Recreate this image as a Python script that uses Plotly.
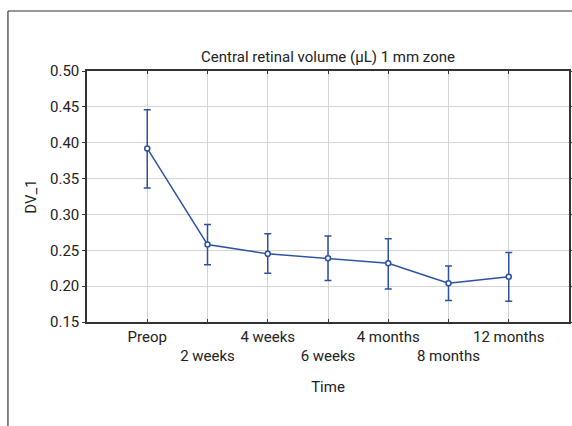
import plotly.graph_objects as go

categories = ["Preop", "2 weeks", "4 weeks", "6 weeks", "4 months", "8 months", "12 months"]
means = [0.392, 0.258, 0.245, 0.239, 0.232, 0.204, 0.213]
upper = [0.446, 0.286, 0.273, 0.270, 0.266, 0.228, 0.247]
lower = [0.337, 0.230, 0.218, 0.208, 0.196, 0.180, 0.179]
y_ticks = [0.15, 0.20, 0.25, 0.30, 0.35, 0.40, 0.45, 0.50]

err_plus = [u - m for u, m in zip(upper, means)]
err_minus = [m - l for m, l in zip(means, lower)]
xpos = list(range(len(categories)))
ticktext = [c if i % 2 == 0 else "<br>" + c for i, c in enumerate(categories)]

FONT = "Roboto, Liberation Sans Narrow, sans-serif"
BLUE = "#2b50a6"
TXT = "#222"

fig = go.Figure()
fig.add_trace(go.Scatter(
    x=xpos, y=means, mode="lines+markers",
    line=dict(color=BLUE, width=1.5),
    marker=dict(symbol="circle", size=5, color="white", line=dict(color=BLUE, width=1.5)),
    error_y=dict(type="data", symmetric=False, array=err_plus, arrayminus=err_minus,
                 color=BLUE, thickness=1.5, width=3.5),
    showlegend=False,
))

fig.update_layout(
    width=572, height=426,
    margin=dict(l=87, r=3, t=71, b=104),
    paper_bgcolor="white", plot_bgcolor="white",
    font=dict(family=FONT, size=15, color=TXT),
    title=dict(text="Central retinal volume (µL) 1 mm zone", x=(87 + 569) / 2 / 572, xanchor="center",
               y=1 - 57 / 426, yanchor="middle", font=dict(size=15, family=FONT, color=TXT)),
    shapes=[
        dict(type="line", xref="paper", yref="paper", x0=-0.164, x1=1.2, y0=1.239, y1=1.239,
             line=dict(color="#333", width=1.2)),
        dict(type="line", xref="paper", yref="paper", x0=-0.164, x1=-0.164, y0=1.239, y1=-0.5,
             line=dict(color="#333", width=1.2)),
    ],
)

fig.update_xaxes(
    range=[-1, 7], tickvals=xpos, ticktext=ticktext, tickangle=0, automargin=False,
    showgrid=True, gridcolor="#d4d4d4", gridwidth=1,
    showline=True, linecolor="#333", linewidth=1.5, mirror="ticks",
    ticks="inside", ticklen=3, tickcolor="#333",
    tickfont=dict(size=15, family=FONT, color=TXT),
    title=dict(text="Time", font=dict(size=15, family=FONT, color=TXT), standoff=17),
    zeroline=False, fixedrange=True,
)
fig.update_yaxes(
    range=[0.15, 0.50], tickvals=y_ticks, ticktext=[f"{v:.2f}" for v in y_ticks], automargin=False,
    showgrid=True, gridcolor="#d4d4d4", gridwidth=1,
    showline=True, linecolor="#333", linewidth=1.5, mirror="ticks",
    ticks="outside", ticklen=3, tickcolor="#333",
    tickfont=dict(size=15, family=FONT, color=TXT),
    title=dict(text="DV_1", font=dict(size=15, family=FONT, color=TXT), standoff=10),
    zeroline=False, fixedrange=True,
)

fig.write_html("out.html", config={"displayModeBar": False},
               post_script="document.body.style.margin='0';")
